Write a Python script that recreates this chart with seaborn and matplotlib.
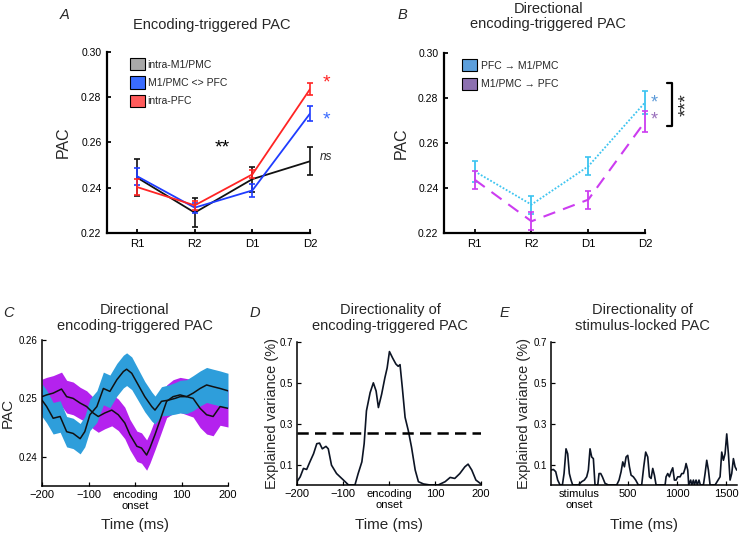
import matplotlib
matplotlib.use("Agg")
import matplotlib.pyplot as plt
import seaborn as sns
from matplotlib.patches import Patch
from matplotlib.ticker import FormatStrFormatter

sns.set_theme(style="ticks")
plt.rcParams["font.family"] = ["Liberation Sans", "DejaVu Sans"]
plt.rcParams["axes.unicode_minus"] = True

# ---- panel A: encoding-triggered PAC per stage
stages = ["R1", "R2", "D1", "D2"]
m1pmc = [0.2445, 0.2290, 0.2438, 0.2517]
m1pmc_err = [0.0080, 0.0065, 0.0055, 0.0062]
between = [0.2451, 0.2312, 0.2388, 0.2728]
between_err = [0.0037, 0.0022, 0.0027, 0.0032]
pfc = [0.2403, 0.2322, 0.2459, 0.2836]
pfc_err = [0.0035, 0.0020, 0.0018, 0.0025]

# ---- panel B: directional PAC per stage
pfc_to_m1 = [0.2474, 0.2326, 0.2496, 0.2780]
pfc_to_m1_err = [0.0048, 0.0040, 0.0040, 0.0050]
m1_to_pfc = [0.2437, 0.2252, 0.2348, 0.2695]
m1_to_pfc_err = [0.0040, 0.0040, 0.0040, 0.0045]

# ---- panel C: time course around encoding onset
c_time_blue = [-200, -190, -176, -161, -147, -133, -118, -108, -97, -82, -68, -54, -39,
               -25, -18, -7, 7, 21, 36, 43, 57, 72, 86, 97, 111, 125, 140, 154, 168, 183, 200]
c_blue = [0.2497, 0.2486, 0.2466, 0.2469, 0.2443, 0.2440, 0.2431, 0.2443, 0.2472, 0.2486,
          0.2517, 0.2512, 0.2532, 0.2546, 0.2550, 0.2543, 0.2523, 0.2503, 0.2486, 0.2480,
          0.2495, 0.2497, 0.2500, 0.2503, 0.2503, 0.2509, 0.2517, 0.2523, 0.2520, 0.2517, 0.2513]
c_blue_sem = [0.0028, 0.0028, 0.0027, 0.0027, 0.0026, 0.0026, 0.0026, 0.0026, 0.0027, 0.0027,
              0.0028, 0.0028, 0.0028, 0.0028, 0.0028, 0.0028, 0.0027, 0.0026, 0.0025, 0.0024,
              0.0025, 0.0026, 0.0027, 0.0028, 0.0029, 0.0030, 0.0030, 0.0030, 0.0030, 0.0030, 0.0030]
c_time_mag = [-200, -190, -176, -158, -147, -133, -118, -104, -90, -79, -65, -50, -36, -22,
              -11, 4, 14, 25, 32, 43, 54, 68, 82, 97, 111, 125, 140, 154, 168, 183, 200]
c_mag = [0.2503, 0.2506, 0.2509, 0.2516, 0.2503, 0.2500, 0.2492, 0.2486, 0.2475, 0.2469,
         0.2475, 0.2480, 0.2472, 0.2458, 0.2438, 0.2418, 0.2415, 0.2403, 0.2415, 0.2438,
         0.2463, 0.2495, 0.2503, 0.2506, 0.2503, 0.2500, 0.2483, 0.2472, 0.2469, 0.2486, 0.2483]
c_mag_sem = [0.0030, 0.0030, 0.0030, 0.0029, 0.0028, 0.0028, 0.0027, 0.0027, 0.0027, 0.0027,
             0.0027, 0.0027, 0.0027, 0.0027, 0.0026, 0.0026, 0.0026, 0.0026, 0.0026, 0.0026,
             0.0027, 0.0028, 0.0029, 0.0030, 0.0031, 0.0032, 0.0033, 0.0033, 0.0033, 0.0032, 0.0032]

# ---- panel D: directionality of encoding-triggered PAC
d_time = [-200, -193, -186, -179, -172, -164, -157, -151, -145, -137, -132, -125, -114, -99,
          -88, -74, -67, -59, -54, -49, -41, -34, -28, -23, -16, -9, -4, 1, 8, 15, 20, 24, 29,
          35, 42, 49, 57, 64, 75, 89, 107, 122, 133, 143, 154, 165, 172, 180, 189, 200]
d_var = [0.016, 0.040, 0.081, 0.076, 0.113, 0.153, 0.202, 0.205, 0.177, 0.189, 0.177, 0.097,
         0.056, 0.024, 0.0, 0.0, 0.056, 0.113, 0.202, 0.363, 0.452, 0.500, 0.460, 0.379, 0.444,
         0.524, 0.573, 0.653, 0.621, 0.592, 0.581, 0.589, 0.476, 0.331, 0.266, 0.185, 0.073,
         0.016, 0.005, 0.0, 0.0, 0.016, 0.037, 0.032, 0.056, 0.089, 0.102, 0.073, 0.024, 0.005]
d_threshold = 0.253

# ---- panel E: directionality of stimulus-locked PAC
e_time = [-286, -262, -238, -218, -194, -170, -153, -133, -116, -99, -82, -65, -7, 27, 54, 78,
          95, 112, 129, 146, 163, 191, 204, 221, 238, 265, 299, 384, 408, 429, 446, 463, 480,
          497, 514, 531, 554, 578, 605, 639, 660, 680, 701, 718, 735, 752, 769, 786, 878, 888,
          905, 922, 939, 956, 973, 990, 1007, 1031, 1048, 1065, 1082, 1092, 1109, 1119, 1139,
          1150, 1167, 1177, 1194, 1207, 1224, 1238, 1269, 1286, 1303, 1320, 1337, 1388, 1439,
          1456, 1473, 1490, 1507, 1524, 1541, 1558, 1575, 1592, 1609]
e_var = [0.073, 0.076, 0.065, 0.024, 0.0, 0.0, 0.056, 0.177, 0.153, 0.056, 0.024, 0.0, 0.0,
         0.016, 0.024, 0.040, 0.073, 0.177, 0.137, 0.129, 0.0, 0.0, 0.056, 0.056, 0.040, 0.008,
         0.0, 0.0, 0.024, 0.065, 0.113, 0.089, 0.137, 0.145, 0.089, 0.048, 0.040, 0.024, 0.0,
         0.0, 0.089, 0.161, 0.137, 0.040, 0.032, 0.081, 0.048, 0.0, 0.0, 0.040, 0.056, 0.040,
         0.065, 0.084, 0.024, 0.024, 0.040, 0.040, 0.056, 0.056, 0.081, 0.105, 0.073, 0.0,
         0.024, 0.0, 0.024, 0.0, 0.024, 0.0, 0.024, 0.0, 0.0, 0.056, 0.121, 0.073, 0.0, 0.0,
         0.040, 0.161, 0.121, 0.153, 0.250, 0.153, 0.024, 0.056, 0.129, 0.089, 0.073]

fig = plt.figure(figsize=(7.5, 5.33), dpi=100)
fig.patch.set_facecolor("white")


def style_axes(ax, lw, xfs, yfs, pad=4):
    sns.despine(ax=ax)
    for side in ["left", "bottom"]:
        ax.spines[side].set_linewidth(lw)
        ax.spines[side].set_color("black")
    ax.tick_params(direction="in", length=3, width=lw * 0.8, colors="black", pad=pad)
    ax.tick_params(axis="x", labelsize=xfs)
    ax.tick_params(axis="y", labelsize=yfs)
    ax.set_facecolor("white")
    ax.grid(False)
    for lab in ax.get_xticklabels():
        lab.set_linespacing(1.1)


# ================= A
axA = fig.add_axes([0.1427, 0.5629, 0.2707, 0.3396])
x = list(range(len(stages)))
for vals, errs, col in [(m1pmc, m1pmc_err, "#111111"),
                        (between, between_err, "#1f3cff"),
                        (pfc, pfc_err, "#ff2424")]:
    sns.lineplot(x=x, y=vals, color=col, lw=1.3, ax=axA)
    axA.errorbar(x, vals, yerr=errs, fmt="none", ecolor=col, elinewidth=1.2,
                 capsize=2, capthick=1.2, clip_on=False)
axA.set_xlim(-0.52, 3.0)
axA.set_ylim(0.22, 0.30)
axA.set_xticks(x)
axA.set_xticklabels(stages)
axA.set_yticks([0.22, 0.24, 0.26, 0.28, 0.30])
axA.yaxis.set_major_formatter(FormatStrFormatter("%.2f"))
style_axes(axA, 1.6, 8.2, 7.5)
axA.set_ylabel("PAC", fontsize=11.5)
axA.yaxis.set_label_coords(-0.177, 0.5)
handlesA = [Patch(facecolor="#a8a8a8", edgecolor="black", lw=0.8, label="intra-M1/PMC"),
            Patch(facecolor="#3a6cff", edgecolor="black", lw=0.8, label="M1/PMC <> PFC"),
            Patch(facecolor="#ff5c5c", edgecolor="black", lw=0.8, label="intra-PFC")]
axA.legend(handles=handlesA, loc="upper left", bbox_to_anchor=(0.08, 1.0), frameon=False,
           fontsize=7.5, handlelength=1.45, handleheight=1.4, labelspacing=0.6,
           handletextpad=0.3, borderaxespad=0.2)
axA.text(1.48, 0.2575, "**", fontsize=14, ha="center", va="center", color="black")
axA.text(3.28, 0.2865, "*", fontsize=14, ha="center", va="center", color="#ff2424", clip_on=False)
axA.text(3.28, 0.2700, "*", fontsize=14, ha="center", va="center", color="#3a6cff", clip_on=False)
axA.text(3.28, 0.2536, "ns", fontsize=8.5, style="italic", ha="center", va="center", clip_on=False)

# ================= B
axB = fig.add_axes([0.592, 0.5629, 0.268, 0.3377])
sns.lineplot(x=x, y=pfc_to_m1, color="#3cc4f0", lw=1.3, ax=axB)
axB.lines[-1].set_linestyle((0, (1, 1)))
axB.errorbar(x, pfc_to_m1, yerr=pfc_to_m1_err, fmt="none", ecolor="#3cc4f0",
             elinewidth=1.3, capsize=2, capthick=1.2, clip_on=False)
sns.lineplot(x=x, y=m1_to_pfc, color="#cc3cf0", lw=1.5, ax=axB)
axB.lines[-1].set_linestyle((0, (6, 4)))
axB.errorbar(x, m1_to_pfc, yerr=m1_to_pfc_err, fmt="none", ecolor="#cc3cf0",
             elinewidth=1.3, capsize=2, capthick=1.2, clip_on=False)
axB.set_xlim(-0.54, 3.0)
axB.set_ylim(0.22, 0.30)
axB.set_xticks(x)
axB.set_xticklabels(stages)
axB.set_yticks([0.22, 0.24, 0.26, 0.28, 0.30])
axB.yaxis.set_major_formatter(FormatStrFormatter("%.2f"))
style_axes(axB, 1.6, 8.2, 7.5)
axB.set_ylabel("PAC", fontsize=11.5)
axB.yaxis.set_label_coords(-0.174, 0.5)
handlesB = [Patch(facecolor="#5c9fdc", edgecolor="black", lw=0.8, label="PFC \u2192 M1/PMC"),
            Patch(facecolor="#8c70b0", edgecolor="black", lw=0.8, label="M1/PMC \u2192 PFC")]
axB.legend(handles=handlesB, loc="upper left", bbox_to_anchor=(0.06, 1.0), frameon=False,
           fontsize=7.5, handlelength=1.45, handleheight=1.4, labelspacing=0.6,
           handletextpad=0.3, borderaxespad=0.2)
axB.text(3.16, 0.2778, "*", fontsize=13, ha="center", va="center", color="#5c9ad8", clip_on=False)
axB.text(3.16, 0.2703, "*", fontsize=13, ha="center", va="center", color="#9a70bc", clip_on=False)
axB.plot([3.38, 3.47, 3.47, 3.38], [0.2867, 0.2867, 0.2676, 0.2676], color="black",
         lw=1.6, clip_on=False)
axB.text(3.74, 0.2769, "***", fontsize=14, rotation=90, ha="center", va="center", clip_on=False)

# ================= C
axC = fig.add_axes([0.056, 0.0882, 0.248, 0.2739])
axC.fill_between(c_time_mag, [m - s for m, s in zip(c_mag, c_mag_sem)],
                 [m + s for m, s in zip(c_mag, c_mag_sem)], color="#b422ee", lw=0)
axC.fill_between(c_time_blue, [m - s for m, s in zip(c_blue, c_blue_sem)],
                 [m + s for m, s in zip(c_blue, c_blue_sem)], color="#2e9edb", lw=0)
sns.lineplot(x=c_time_mag, y=c_mag, color="#111111", lw=1.1, ax=axC)
sns.lineplot(x=c_time_blue, y=c_blue, color="#111111", lw=1.1, ax=axC)
axC.set_xlim(-200, 200)
axC.set_ylim(0.235, 0.26)
axC.set_xticks([-200, -100, 0, 100, 200])
axC.set_xticklabels(["\u2212200", "\u2212100", "encoding\nonset", "100", "200"])
axC.set_yticks([0.24, 0.25, 0.26])
axC.yaxis.set_major_formatter(FormatStrFormatter("%.2f"))
style_axes(axC, 1.1, 8, 7, pad=3)
axC.set_ylabel("PAC", fontsize=11)
axC.yaxis.set_label_coords(-0.145, 0.5)
axC.set_xlabel("Time (ms)", fontsize=11)
axC.xaxis.set_label_coords(0.5, -0.22)

# ================= D
axD = fig.add_axes([0.396, 0.0901, 0.2453, 0.2683])
sns.lineplot(x=d_time, y=d_var, color="#0c1424", lw=1.2, ax=axD)
axD.axhline(d_threshold, color="black", lw=1.8, ls=(0, (4.5, 2.5)))
axD.set_xlim(-200, 200)
axD.set_ylim(0, 0.7)
axD.set_xticks([-200, -100, 0, 100, 200])
axD.set_xticklabels(["\u2212200", "\u2212100", "encoding\nonset", "100", "200"])
axD.set_yticks([0.1, 0.3, 0.5, 0.7])
axD.yaxis.set_major_formatter(FormatStrFormatter("%.1f"))
style_axes(axD, 1.1, 8, 7, pad=3)
axD.set_ylabel("Explained variance (%)", fontsize=10.5)
axD.yaxis.set_label_coords(-0.1, 0.5)
axD.set_xlabel("Time (ms)", fontsize=11)
axD.xaxis.set_label_coords(0.5, -0.23)

# ================= E
axE = fig.add_axes([0.7347, 0.0901, 0.248, 0.2683])
sns.lineplot(x=e_time, y=e_var, color="#0c1424", lw=1.2, ax=axE)
axE.set_xlim(-286, 1612)
axE.set_ylim(0, 0.7)
axE.set_xticks([0, 500, 1000, 1500])
axE.set_xticklabels(["stimulus\nonset", "500", "1000", "1500"])
axE.set_yticks([0.1, 0.3, 0.5, 0.7])
axE.yaxis.set_major_formatter(FormatStrFormatter("%.1f"))
style_axes(axE, 1.1, 8, 7, pad=3)
axE.set_ylabel("Explained variance (%)", fontsize=10.5)
axE.yaxis.set_label_coords(-0.11, 0.5)
axE.set_xlabel("Time (ms)", fontsize=11)
axE.xaxis.set_label_coords(0.5, -0.23)

# ---- titles and panel letters
title_fs = 10.5
fig.text(0.283, 0.953, "Encoding-triggered PAC", fontsize=title_fs, ha="center", va="center")
fig.text(0.731, 0.969, "Directional\nencoding-triggered PAC", fontsize=title_fs,
         ha="center", va="center", linespacing=1.15)
fig.text(0.18, 0.403, "Directional\nencoding-triggered PAC", fontsize=title_fs,
         ha="center", va="center", linespacing=1.15)
fig.text(0.52, 0.403, "Directionality of\nencoding-triggered PAC", fontsize=title_fs,
         ha="center", va="center", linespacing=1.15)
fig.text(0.857, 0.403, "Directionality of\nstimulus-locked PAC", fontsize=title_fs,
         ha="center", va="center", linespacing=1.15)
for lx, ly, letter in [(0.0867, 0.972, "A"), (0.536, 0.972, "B"), (0.012, 0.413, "C"),
                       (0.34, 0.413, "D"), (0.673, 0.413, "E")]:
    fig.text(lx, ly, letter, fontsize=10.5, style="italic", ha="center", va="center")

fig.savefig("out.png", dpi=100, facecolor="white")
